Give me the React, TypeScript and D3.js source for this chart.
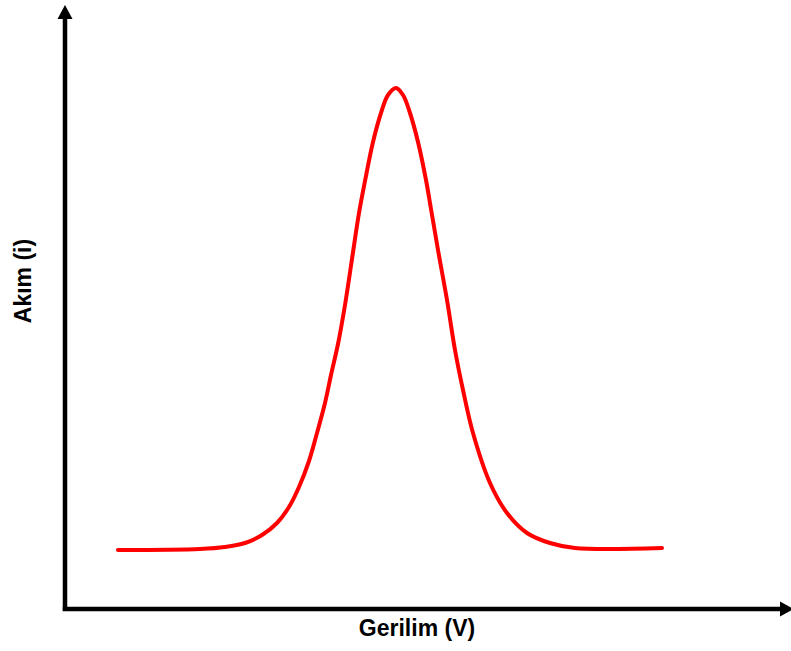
import React from "react";
import * as d3 from "d3";

// Voltage (arbitrary units, origin at axis corner)
const voltage = [53, 135, 160, 180, 197, 212, 224, 234, 244, 252, 260, 266, 273, 280, 287, 294, 300, 308, 316, 323, 331, 338, 345, 353, 361, 366, 373, 382, 390, 398, 408, 425, 442, 462, 485, 510, 597];
// Current (arbitrary units)
const current = [59, 60, 62, 66, 74, 86, 102, 122, 148, 176, 206, 234, 265, 304, 350, 396, 428, 467, 496, 514, 521, 514, 496, 467, 429, 400, 359, 309, 259, 219, 176, 126, 96, 76, 66, 61, 61];

const xLabel = "Gerilim (V)";
const yLabel = "Akım (i)";

const W = 791;
const H = 651;

export default function App() {
  const originX = 65;
  const originY = 609;
  const x = d3.scaleLinear().domain([0, 725]).range([originX, originX + 725]);
  const y = d3.scaleLinear().domain([0, 600]).range([originY, originY - 600]);

  const pts: [number, number][] = voltage.map((v, i) => [v, current[i]]);
  const line = d3
    .line<[number, number]>()
    .x((d) => x(d[0]))
    .y((d) => y(d[1]))
    .curve(d3.curveCatmullRom.alpha(0.5));

  const axisTopY = 5;
  const axisRightX = 791;

  return (
    <svg
      width={W}
      height={H}
      style={{ position: "absolute", left: 0, top: 0, background: "#fff" }}
    >
      <rect x={0} y={0} width={W} height={H} fill="#fff" />
      {/* y axis */}
      <line x1={originX} y1={originY + 2} x2={originX} y2={16} stroke="#000" strokeWidth={4.5} />
      <polygon
        points={`${originX},${axisTopY} ${originX - 7.5},${axisTopY + 14} ${originX + 7.5},${axisTopY + 14}`}
        fill="#000"
      />
      {/* x axis */}
      <line x1={originX - 2.2} y1={originY} x2={axisRightX - 8} y2={originY} stroke="#000" strokeWidth={4.5} />
      <polygon
        points={`${axisRightX + 3},${originY} ${axisRightX - 11},${originY - 7.5} ${axisRightX - 11},${originY + 7.5}`}
        fill="#000"
      />
      {/* curve */}
      <path d={line(pts) || ""} fill="none" stroke="#ff0000" strokeWidth={4} strokeLinejoin="round" strokeLinecap="round" />
      {/* labels */}
      <text
        x={417}
        y={636}
        textAnchor="middle"
        fontFamily="Liberation Sans, Arial, sans-serif"
        fontWeight="bold"
        fontSize={23}
        fill="#000"
      >
        {xLabel}
      </text>
      <text
        transform={`translate(31, 281) rotate(-90)`}
        textAnchor="middle"
        fontFamily="Liberation Sans, Arial, sans-serif"
        fontWeight="bold"
        fontSize={23}
        fill="#000"
      >
        {yLabel}
      </text>
    </svg>
  );
}
